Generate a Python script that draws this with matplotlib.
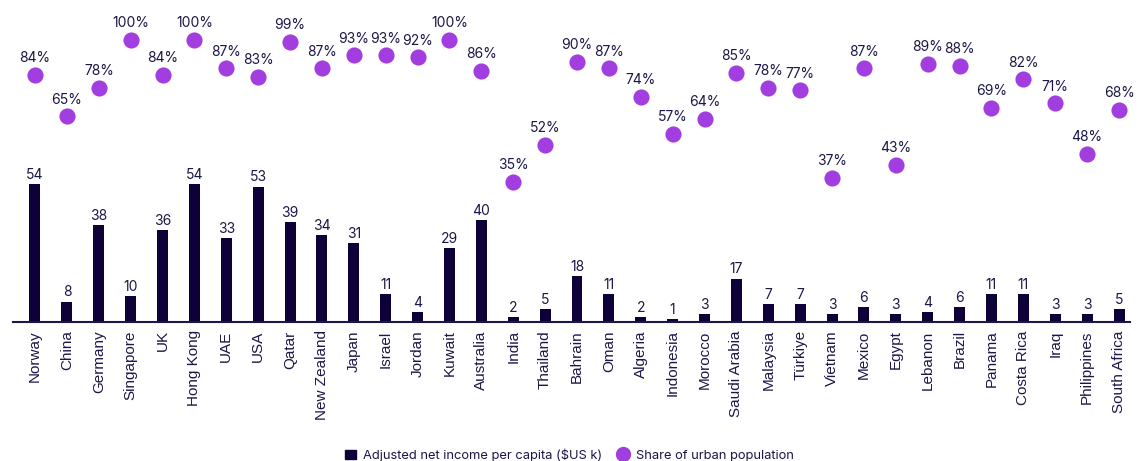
import matplotlib.pyplot as plt
from matplotlib.lines import Line2D
from matplotlib.patches import Patch

# data
countries = ["Norway", "China", "Germany", "Singapore", "UK", "Hong Kong", "UAE", "USA",
             "Qatar", "New Zealand", "Japan", "Israel", "Jordan", "Kuwait", "Australia",
             "India", "Thailand", "Bahrain", "Oman", "Algeria", "Indonesia", "Morocco",
             "Saudi Arabia", "Malaysia", "Türkiye", "Vietnam", "Mexico", "Egypt", "Lebanon",
             "Brazil", "Panama", "Costa Rica", "Iraq", "Philippines", "South Africa"]
income = [54, 8, 38, 10, 36, 54, 33, 53, 39, 34, 31, 11, 4, 29, 40,
          2, 5, 18, 11, 2, 1, 3, 17, 7, 7, 3, 6, 3, 4, 6, 11, 11, 3, 3, 5]
urban = [84, 65, 78, 100, 84, 100, 87, 83, 99, 87, 93, 93, 92, 100, 86,
         35, 52, 90, 87, 74, 57, 64, 85, 78, 77, 37, 87, 43, 89, 88, 69, 82, 71, 48, 68]

navy = "#0e0039"
purple = "#a23ddf"
textc = "#1b1747"

fig = plt.figure(figsize=(11.39, 4.61), dpi=100)
ax = fig.add_axes([13 / 1139, 1 - 322 / 461, 1117 / 1139, 312 / 461])
x = list(range(len(countries)))

ax.bar(x, income, width=0.345, color=navy, zorder=2)
for xi, v in zip(x, income):
    ax.annotate(str(v), (xi, v), xytext=(0, 1.5), textcoords="offset points",
                ha="center", va="bottom", fontsize=10, color=textc, family="Inter")

px_per_unit = 138 / 54
ax.set_ylim(0, 312 / px_per_unit)
ax.set_xlim(-0.69, 34.345)

for s in ["top", "right", "left"]:
    ax.spines[s].set_visible(False)
ax.spines["bottom"].set_color(textc)
ax.spines["bottom"].set_linewidth(1.5)
ax.set_yticks([])
ax.set_xticks(x)
ax.set_xticklabels(countries, rotation=90, fontsize=11, color=textc, family="Liberation Sans")
ax.tick_params(axis="x", length=0, pad=6)

# urban share on its own scale
ax2 = ax.twinx()
ppp = 142 / 65
zero_px = 40 + 100 * ppp
ax2.set_ylim(-(322 - zero_px) / ppp, (zero_px - 10) / ppp)
ax2.scatter(x, urban, s=135, color=purple, zorder=3, linewidths=0)
for xi, v in zip(x, urban):
    ax2.annotate(f"{v}%", (xi, v), xytext=(0, 7), textcoords="offset points",
                 ha="center", va="bottom", fontsize=10, color=textc, family="Inter")
ax2.axis("off")

handles = [Patch(color=navy, label="Adjusted net income per capita ($US k)"),
           Line2D([], [], marker="o", color=purple, linestyle="none", markersize=10,
                  label="Share of urban population")]
fig.legend(handles=handles, loc="center", bbox_to_anchor=(0.5, 1 - 455 / 461), ncol=2,
           frameon=False, handlelength=0.8, handletextpad=0.6,
           columnspacing=1.2, labelcolor=textc, prop={"family": "Inter", "size": 9.3})

fig.savefig("out.png", dpi=100)
